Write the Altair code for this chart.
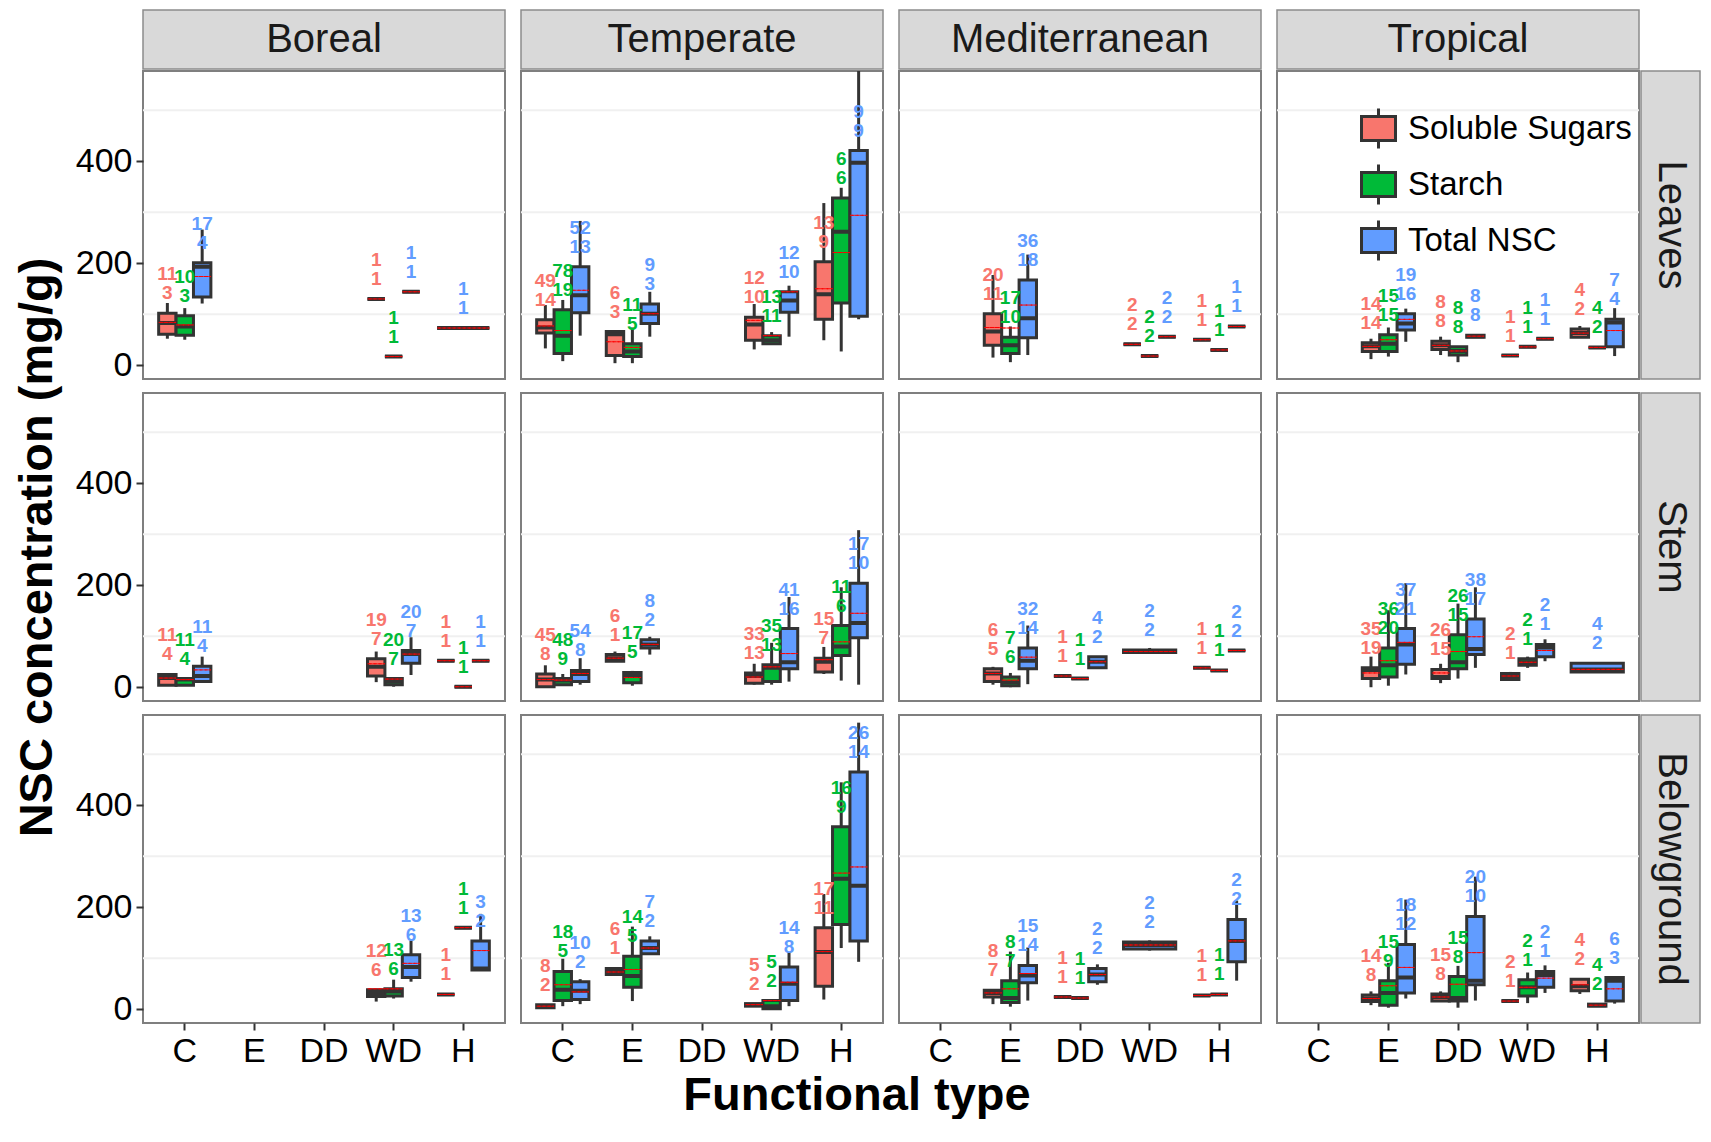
import altair as alt
import pandas as pd

FONT = "Liberation Sans"
W, H = 362, 308

REGIONS = ["Boreal", "Temperate", "Mediterranean", "Tropical"]
ORGANS = ["Leaves", "Stem", "Belowground"]
FTYPES = ["C", "E", "DD", "WD", "H"]
SERIES_ORDER = ["Soluble Sugars", "Starch", "Total NSC"]
SERIES_CODE = {"S": "Soluble Sugars", "T": "Starch", "N": "Total NSC"}
COLORS = ["#F8766D", "#00BA38", "#619CFF"]
Y_TICKS = [0, 200, 400]
MINOR_GRID = [100, 300, 500]

# number of boxes in each panel, panels in order organ x region
PANEL_SIZES = [7, 12, 9, 12, 9, 12, 10, 10, 6, 12, 10, 12]

FTYPE = (
    ["C", "C", "C", "WD", "WD", "WD", "H"]
    + ["C", "C", "C", "E", "E", "E", "WD", "WD", "WD", "H", "H", "H"]
    + ["E", "E", "E", "WD", "WD", "WD", "H", "H", "H"]
    + ["E", "E", "E", "DD", "DD", "DD", "WD", "WD", "WD", "H", "H", "H"]
    + ["C", "C", "C", "WD", "WD", "WD", "H", "H", "H"]
    + ["C", "C", "C", "E", "E", "E", "WD", "WD", "WD", "H", "H", "H"]
    + ["E", "E", "E", "DD", "DD", "DD", "WD", "H", "H", "H"]
    + ["E", "E", "E", "DD", "DD", "DD", "WD", "WD", "WD", "H"]
    + ["WD", "WD", "WD", "H", "H", "H"]
    + ["C", "C", "C", "E", "E", "E", "WD", "WD", "WD", "H", "H", "H"]
    + ["E", "E", "E", "DD", "DD", "DD", "WD", "H", "H", "H"]
    + ["E", "E", "E", "DD", "DD", "DD", "WD", "WD", "WD", "H", "H", "H"]
)
SERIES = (
    list("STNSTNN")
    + list("STNSTNSTNSTN")
    + list("STNSTNSTN")
    + list("STNSTNSTNSTN")
    + list("STNSTNSTN")
    + list("STNSTNSTNSTN")
    + list("STNSTNNSTN")
    + list("STNSTNSTNN")
    + list("STNSTN")
    + list("STNSTNSTNSTN")
    + list("STNSTNNSTN")
    + list("STNSTNSTNSTN")
)

YMIN = [52, 50, 121, 130, 17, 144, 73,
        33, 8, 58, 4, 4, 56, 31, 42, 56, 49, 27, 90,
        15, 6, 20, 41, 18, 56, 50, 30, 76,
        12, 17, 46, 20, 6, 54, 19, 36, 52, 55, 35, 18,
        4, 4, 11, 10, 1, 24, 52, 1, 52,
        0, 3, 5, 50, 3, 64, 5, 5, 11, 26, 13, 5,
        5, 0, 6, 22, 17, 38, 66, 38, 33, 72,
        0, 3, 25, 8, 17, 38, 14, 38, 51, 30,
        15, 21, 54, 29, 160, 77,
        2, 6, 10, 68, 16, 109, 5, 0, 6, 19, 120, 93,
        10, 5, 17, 24, 22, 48, 115, 27, 29, 56,
        8, 3, 21, 15, 3, 17, 16, 12, 32, 30, 5, 11]
Q1 = [61, 59, 134, 130, 17, 144, 73,
      63, 23, 103, 19, 17, 82, 49, 42, 104, 90, 122, 96,
      39, 23, 54, 41, 18, 56, 50, 30, 76,
      27, 27, 69, 31, 20, 55, 19, 36, 52, 55, 35, 36,
      4, 4, 11, 22, 5, 47, 52, 1, 52,
      1, 5, 11, 51, 9, 77, 8, 11, 36, 30, 62, 97,
      11, 3, 36, 22, 17, 38, 68, 38, 33, 72,
      17, 20, 45, 17, 36, 64, 15, 43, 60, 30,
      25, 26, 62, 29, 160, 77,
      3, 17, 19, 68, 43, 109, 6, 1, 17, 45, 166, 134,
      24, 13, 52, 24, 22, 54, 118, 27, 29, 93,
      15, 8, 32, 16, 16, 48, 16, 26, 43, 36, 6, 16]
MED = [83, 76, 193, 130, 17, 144, 73,
       74, 58, 137, 61, 27, 101, 80, 49, 127, 139, 262, 397,
       66, 39, 92, 41, 18, 56, 50, 30, 76,
       37, 42, 82, 39, 28, 57, 19, 36, 52, 63, 35, 84,
       18, 15, 22, 40, 11, 65, 52, 1, 52,
       15, 13, 26, 57, 22, 84, 22, 38, 49, 50, 80, 126,
       27, 10, 52, 22, 17, 50, 70, 38, 33, 72,
       34, 43, 84, 20, 49, 75, 22, 49, 78, 35,
       32, 35, 83, 29, 160, 80,
       6, 38, 36, 73, 65, 120, 9, 6, 50, 112, 256, 242,
       32, 22, 66, 24, 22, 68, 126, 27, 29, 134,
       21, 32, 62, 24, 22, 56, 16, 43, 67, 45, 8, 56]
Q3 = [102, 97, 201, 130, 17, 144, 73,
      89, 109, 193, 66, 42, 120, 94, 58, 144, 203, 328, 421,
      101, 55, 167, 41, 18, 56, 50, 30, 76,
      44, 60, 101, 47, 36, 59, 19, 36, 52, 71, 35, 90,
      25, 17, 41, 56, 17, 72, 52, 1, 52,
      26, 17, 33, 64, 29, 93, 28, 44, 115, 57, 121, 204,
      36, 20, 77, 22, 17, 60, 73, 38, 33, 72,
      38, 77, 115, 35, 103, 134, 27, 56, 84, 47,
      38, 40, 107, 29, 160, 134,
      9, 74, 54, 80, 104, 134, 11, 17, 83, 160, 358, 465,
      37, 56, 86, 24, 22, 80, 132, 27, 29, 176,
      28, 56, 127, 30, 64, 182, 16, 58, 74, 59, 10, 62]
YMAX = [122, 112, 266, 130, 17, 144, 73,
        118, 128, 283, 69, 74, 144, 120, 65, 156, 318, 348, 610,
        177, 76, 217, 41, 18, 56, 50, 30, 76,
        52, 74, 111, 56, 37, 60, 19, 36, 52, 77, 35, 112,
        26, 17, 60, 70, 19, 98, 52, 1, 52,
        43, 26, 57, 70, 32, 99, 46, 87, 177, 79, 196, 308,
        40, 28, 121, 22, 17, 60, 77, 38, 33, 72,
        60, 151, 204, 46, 164, 196, 30, 60, 94, 47,
        40, 58, 134, 29, 160, 187,
        10, 99, 59, 80, 162, 143, 12, 19, 112, 226, 445, 562,
        37, 113, 121, 24, 22, 88, 135, 27, 29, 213,
        35, 91, 215, 35, 85, 260, 16, 72, 86, 59, 10, 64]
MEAN = [84, 79, 174, 130, 17, 144, 73,
        77, 68, 147, 46, 35, 101, 88, 58, 144, 150, 221, 294,
        74, 73, 118, 41, 18, 56, 50, 30, 76,
        37, 50, 90, 39, 28, 57, 19, 36, 52, 63, 35, 68,
        18, 15, 34, 46, 16, 65, 52, 1, 52,
        15, 14, 27, 57, 19, 84, 20, 40, 66, 54, 89, 145,
        27, 14, 59, 22, 17, 50, 70, 38, 33, 72,
        28, 52, 88, 28, 70, 99, 22, 49, 72, 35,
        40, 40, 90, 29, 160, 115,
        6, 48, 34, 73, 78, 120, 9, 17, 53, 113, 267, 279,
        32, 40, 70, 24, 22, 68, 126, 27, 29, 134,
        21, 46, 82, 24, 49, 111, 16, 43, 61, 48, 8, 40]
N1 = [11, 10, 17, 1, 1, 1, 1,
      49, 78, 52, 6, 11, 9, 12, 13, 12, 13, 6, 9,
      20, 17, 36, 2, 2, 2, 1, 1, 1,
      14, 15, 19, 8, 8, 8, 1, 1, 1, 4, 4, 7,
      11, 11, 11, 19, 20, 20, 1, 1, 1,
      45, 48, 54, 6, 17, 8, 33, 35, 41, 15, 11, 17,
      6, 7, 32, 1, 1, 4, 2, 1, 1, 2,
      35, 36, 37, 26, 26, 38, 2, 2, 2, 4,
      12, 13, 13, 1, 1, 3,
      8, 18, 10, 6, 14, 7, 5, 5, 14, 17, 16, 26,
      8, 8, 15, 1, 1, 2, 2, 1, 1, 2,
      14, 15, 18, 15, 15, 20, 2, 2, 2, 4, 4, 6]
N2 = [3, 3, 4, 1, 1, 1, 1,
      14, 19, 13, 3, 5, 3, 10, 11, 10, 9, 6, 9,
      11, 10, 18, 2, 2, 2, 1, 1, 1,
      14, 15, 16, 8, 8, 8, 1, 1, 1, 2, 2, 4,
      4, 4, 4, 7, 7, 7, 1, 1, 1,
      8, 9, 8, 1, 5, 2, 13, 13, 16, 7, 6, 10,
      5, 6, 14, 1, 1, 2, 2, 1, 1, 2,
      19, 20, 21, 15, 15, 17, 1, 1, 1, 2,
      6, 6, 6, 1, 1, 2,
      2, 5, 2, 1, 5, 2, 2, 2, 8, 11, 9, 14,
      7, 7, 14, 1, 1, 2, 2, 1, 1, 2,
      8, 9, 12, 8, 8, 10, 1, 1, 1, 2, 2, 3]

# ---- build table ----
organ_col, region_col = [], []
panels_order = [(o, r) for o in ORGANS for r in REGIONS]
for (o, r), n in zip(panels_order, PANEL_SIZES):
    organ_col += [o] * n
    region_col += [r] * n

df = pd.DataFrame({
    "organ": organ_col, "region": region_col, "ftype": FTYPE,
    "series": [SERIES_CODE[s] for s in SERIES],
    "ymin": YMIN, "q1": Q1, "med": MED, "q3": Q3, "ymax": YMAX, "mean": MEAN,
    "n1": N1, "n2": N2,
})
df["ngroup"] = df.groupby(["organ", "region", "ftype"])["series"].transform("count")
df["single"] = (df["ngroup"] == 1).astype(int)

XSCALE = alt.Scale(domain=FTYPES, paddingInner=0, paddingOuter=0.1)
OFFSCALE = alt.Scale(domain=SERIES_ORDER, paddingInner=0, paddingOuter=0.5)
YSCALE = alt.Scale(domain=[-27, 577], nice=False, zero=False)
COLSCALE = alt.Scale(domain=SERIES_ORDER, range=COLORS)

LEGEND = alt.Legend(
    orient="none", legendX=80, legendY=36, title=None,
    labelFontSize=33, labelFont=FONT, labelColor="black", labelLimit=400,
    symbolType="M-0.85,-0.6H0.85V0.6H-0.85Z M0,-0.6V-1 M0,0.6V1",
    symbolSize=1600, symbolStrokeColor="#333333", symbolStrokeWidth=3,
    symbolOpacity=1, rowPadding=3, labelOffset=8, padding=0,
)


def box_layers(organ, region, single, xax, yax, legend):
    src = alt.Chart(df).transform_filter(
        (alt.datum.organ == organ) & (alt.datum.region == region) & (alt.datum.single == single)
    )
    enc = {"x": alt.X("ftype:N", scale=XSCALE, axis=xax, title=None)}
    if not single:
        enc["xOffset"] = alt.XOffset("series:N", scale=OFFSCALE)
    bw = {"width": alt.RelativeBandSize(0.75)} if single else {}

    def y(f):
        return alt.Y(f, type="quantitative", scale=YSCALE, axis=yax)

    whisk = src.mark_rule(color="#333333", strokeWidth=3, clip=True).encode(
        y=y("ymin"), y2=alt.Y2("ymax"), **enc)
    box = src.mark_bar(stroke="#333333", strokeWidth=3, **bw).encode(
        y=y("q1"), y2=alt.Y2("q3"),
        fill=alt.Fill("series:N", scale=COLSCALE, legend=legend), **enc)
    med = src.mark_bar(stroke="#333333", strokeWidth=4, fillOpacity=0, **bw).encode(
        y=y("med"), y2=alt.Y2("med"), **enc)
    mean = src.mark_bar(stroke="#FF0000", strokeWidth=1, strokeDash=[3, 2], fillOpacity=0, **bw).encode(
        y=y("mean"), y2=alt.Y2("mean"), **enc)
    t1 = src.mark_text(font=FONT, fontSize=19, fontWeight="bold", dy=-39, baseline="middle").encode(
        y=y("q3"), text=alt.Text("n1:Q"),
        color=alt.Color("series:N", scale=COLSCALE, legend=None), **enc)
    t2 = src.mark_text(font=FONT, fontSize=19, fontWeight="bold", dy=-20, baseline="middle").encode(
        y=y("q3"), text=alt.Text("n2:Q"),
        color=alt.Color("series:N", scale=COLSCALE, legend=None), **enc)
    return [whisk, box, med, mean], [t1, t2]


panels = []
for ri, organ in enumerate(ORGANS):
    for ci, region in enumerate(REGIONS):
        if ci == 0:
            yax = alt.Axis(
                values=Y_TICKS, labelFontSize=34, labelFont=FONT, labelColor="black",
                tickSize=7, tickWidth=2, tickColor="#333333", domain=False, grid=False,
                labelPadding=4,
                title="NSC concentration (mg/g)" if ri == 1 else None,
                titleFontSize=47, titleFont=FONT, titleFontWeight="bold",
                titleColor="black", titlePadding=14,
            )
        else:
            yax = None
        if ri == 2:
            xax = alt.Axis(
                labelFontSize=34, labelFont=FONT, labelColor="black", labelAngle=0,
                tickSize=7, tickWidth=2, tickColor="#333333", domain=False, grid=False,
                labelPadding=4, title=None,
            )
        else:
            xax = None
        legend = LEGEND if (organ == "Leaves" and region == "Tropical") else None

        grid = alt.Chart(pd.DataFrame({"g": MINOR_GRID})).mark_rule(
            color="#f0f0f0", strokeWidth=2).encode(
            y=alt.Y("g:Q", scale=YSCALE, axis=yax))

        main_b, main_t = box_layers(organ, region, 0, xax, yax, legend)
        sing_b, sing_t = box_layers(organ, region, 1, xax, yax, legend)
        layers = [grid] + main_b + sing_b + main_t + sing_t

        if ri == 0:
            lab = pd.DataFrame({"label": [region]})
            layers.append(alt.Chart(lab).mark_rect(
                fill="#d9d9d9", stroke="#8c8c8c", strokeWidth=1.5).encode(
                x=alt.value(0), x2=alt.value(W), y=alt.value(-61), y2=alt.value(-2)))
            layers.append(alt.Chart(lab).mark_text(
                font=FONT, fontSize=40, color="#1a1a1a", baseline="middle").encode(
                x=alt.value(W / 2), y=alt.value(-31), text="label:N"))
        if ci == 3:
            lab = pd.DataFrame({"label": [organ]})
            layers.append(alt.Chart(lab).mark_rect(
                fill="#d9d9d9", stroke="#8c8c8c", strokeWidth=1.5).encode(
                x=alt.value(W + 2), x2=alt.value(W + 61), y=alt.value(0), y2=alt.value(H)))
            layers.append(alt.Chart(lab).mark_text(
                font=FONT, fontSize=40, color="#1a1a1a", baseline="middle", angle=90).encode(
                x=alt.value(W + 32), y=alt.value(H / 2), text="label:N"))

        panels.append(alt.layer(*layers).properties(width=W, height=H))

chart = (
    alt.concat(*panels, columns=4, spacing={"row": 14, "column": 16},
               align="each", bounds="flush")
    .resolve_scale(fill="independent", color="independent")
    .resolve_legend(fill="independent", color="independent")
    .properties(
        title=alt.TitleParams(
            "Functional type", orient="bottom", anchor="middle", fontSize=47,
            fontWeight="bold", font=FONT, color="black", offset=4, dx=0,
        ),
        padding={"left": 4, "top": 0, "right": 0, "bottom": 0},
    )
    .configure_view(stroke="#7f7f7f", strokeWidth=2)
)

chart.save("out.html", embed_options={"renderer": "svg", "actions": False})
